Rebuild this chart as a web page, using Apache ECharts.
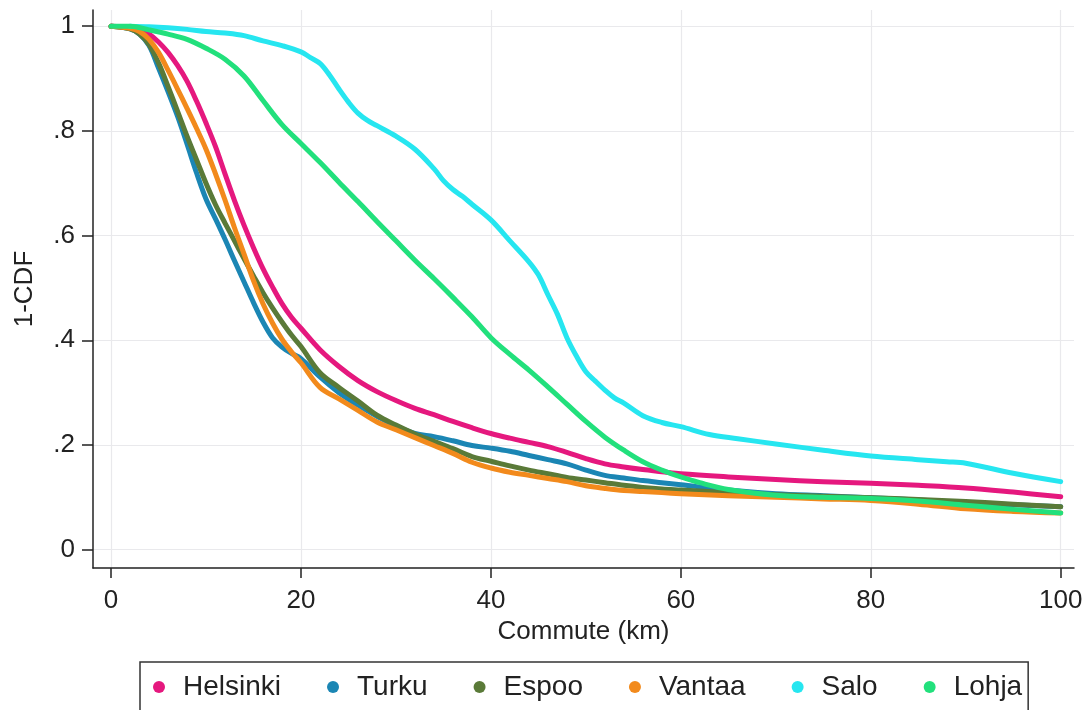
<!DOCTYPE html>
<html>
<head>
<meta charset="utf-8">
<script src="https://cdn.jsdelivr.net/npm/echarts@6/dist/echarts.min.js"></script>
<style>
html,body{margin:0;padding:0;background:#fff;}
#chart{width:1086px;height:710px;}
</style>
</head>
<body>
<div id="chart"></div>
<script>
// ---- data ----
const cityNames = ['Helsinki', 'Turku', 'Espoo', 'Vantaa', 'Salo', 'Lohja'];
const xTicks = [0, 20, 40, 60, 80, 100];
const yTicks = [0, 0.2, 0.4, 0.6, 0.8, 1];
const yTickLabels = ['0', '.2', '.4', '.6', '.8', '1'];

// shared distance grid (km) for the four big-city curves
const cityKm = [0,2,3,4,5,6,7,8,9,10, 11,12,13,14,15,16,17,18,19,20,
  22,24,26,28,30,32,34,36,38,40,42,44,46,48,50,52,54,56,58,60,
  65,70,75,80,85,90,95,100];
const helsinki = [1,0.998,0.993,0.985,0.97,0.95,0.925,0.895,0.857,0.815,
  0.77,0.718,0.667,0.62,0.577,0.537,0.502,0.47,0.444,0.423,
  0.382,0.35,0.323,0.302,0.285,0.27,0.258,0.245,0.233,0.222,0.213,0.205,0.197,0.186,0.174,0.164,0.158,0.153,0.149,0.145,
  0.139,0.134,0.13,0.127,0.123,0.118,0.11,0.101];
const turku = [1,0.995,0.985,0.963,0.92,0.875,0.828,0.775,0.72,0.67,
  0.632,0.593,0.552,0.512,0.472,0.435,0.405,0.387,0.375,0.365,
  0.33,0.3,0.276,0.255,0.236,0.222,0.216,0.208,0.199,0.194,0.188,0.18,0.172,0.164,0.152,0.142,0.137,0.132,0.128,0.124,
  0.114,0.107,0.103,0.099,0.095,0.09,0.086,0.082];
const espoo = [1,0.995,0.985,0.965,0.93,0.885,0.838,0.79,0.745,0.70,
  0.659,0.624,0.59,0.556,0.523,0.491,0.462,0.435,0.41,0.388,
  0.338,0.31,0.284,0.257,0.238,0.221,0.207,0.193,0.178,0.169,0.16,0.152,0.145,0.138,0.133,0.128,0.123,0.119,0.116,0.114,
  0.109,0.105,0.102,0.099,0.096,0.092,0.087,0.082];
const vantaa = [1,0.996,0.99,0.975,0.95,0.916,0.88,0.843,0.805,0.765,
  0.718,0.668,0.615,0.565,0.514,0.47,0.433,0.402,0.378,0.357,
  0.31,0.288,0.266,0.244,0.229,0.214,0.199,0.184,0.167,0.156,0.148,0.142,0.136,0.13,0.122,0.117,0.113,0.111,0.109,0.107,
  0.103,0.1,0.097,0.094,0.087,0.078,0.073,0.07];

const saloKm = [2,4,6,8,10,12,14,16,18,20, 21,22,23,24,25,26,27,28,
  30,32,34,35,36,37,38, 40,42,44,45,46,47,48,49,50,51,52,53,54,
  56,58,60,63,66,70,75,80,85,88,90,95,100];
const salo = [1.0,0.999,0.997,0.994,0.99,0.987,0.982,0.972,0.963,0.951,
  0.94,0.929,0.907,0.88,0.855,0.834,0.82,0.81,
  0.79,0.765,0.728,0.705,0.688,0.675,0.66,
  0.63,0.59,0.55,0.525,0.487,0.45,0.405,0.37,0.34,0.322,0.305,0.29,0.28,
  0.256,0.243,0.235,0.22,0.212,0.202,0.19,0.179,0.172,0.168,0.165,0.146,0.13];

const lohjaKm = [0,2,4,6,8,10,12,14,16,18,20,22,24,26,28,30,32,34,36,38,
  40,42,44,46,48,50,52,54,56,58,60, 62,65,70,75,80,85,90,95,100];
const lohja = [1,1.0,0.993,0.985,0.975,0.958,0.937,0.905,0.858,0.812,
  0.776,0.74,0.702,0.665,0.627,0.59,0.553,0.518,0.482,0.445,
  0.405,0.373,0.343,0.311,0.278,0.245,0.215,0.19,0.168,0.152,0.139,
  0.128,0.115,0.104,0.1,0.098,0.093,0.085,0.077,0.07];

// ---- build ----
const colors = ['#e5187e', '#1b86b4', '#5a7a38', '#f28a1c', '#26e6f0', '#22e07c'];
const xs = [cityKm, cityKm, cityKm, cityKm, saloKm, lohjaKm];
const ys = [helsinki, turku, espoo, vantaa, salo, lohja];
const FONT = "'Liberation Sans', Arial, sans-serif";

const series = cityNames.map((name, i) => ({
  name: name,
  type: 'line',
  data: xs[i].map((x, j) => [x, ys[i][j]]),
  showSymbol: false,
  smooth: 0.35,
  lineStyle: { width: 5, color: colors[i], cap: 'round', join: 'round' },
  itemStyle: { color: colors[i] },
  emphasis: { disabled: true },
  animation: false
}));

const chart = echarts.init(document.getElementById('chart'), null, { renderer: 'canvas' });
chart.setOption({
  backgroundColor: '#ffffff',
  animation: false,
  textStyle: { fontFamily: FONT },
  grid: { left: 93, right: 12, top: 10, bottom: 142, containLabel: false, outerBoundsMode: 'none' },
  xAxis: {
    type: 'value',
    min: -1.9, max: 101.4,
    name: 'Commute (km)',
    nameLocation: 'middle',
    nameGap: 51,
    nameTextStyle: { fontSize: 26, color: '#222', fontFamily: FONT },
    axisLine: { show: true, onZero: false, lineStyle: { color: '#222', width: 1.5 } },
    axisTick: { show: true, length: 10, customValues: xTicks, lineStyle: { color: '#222', width: 1.5 } },
    axisLabel: { customValues: xTicks, fontSize: 26, color: '#222', margin: 20, fontFamily: FONT },
    splitLine: { show: true, lineStyle: { color: '#e9e9ec', width: 1.2 } }
  },
  yAxis: {
    type: 'value',
    min: -0.035, max: 1.031,
    name: '1-CDF',
    nameLocation: 'middle',
    nameGap: 55,
    nameRotate: 90,
    nameTextStyle: { fontSize: 26, color: '#222', fontFamily: FONT },
    axisLine: { show: true, onZero: false, lineStyle: { color: '#222', width: 1.5 } },
    axisTick: { show: true, length: 11, customValues: yTicks, lineStyle: { color: '#222', width: 1.5 } },
    axisLabel: {
      customValues: yTicks, fontSize: 26, color: '#222', margin: 18, fontFamily: FONT,
      formatter: v => { const k = yTicks.findIndex(t => Math.abs(t - v) < 1e-6); return k >= 0 ? yTickLabels[k] : ''; }
    },
    splitLine: { show: true, lineStyle: { color: '#e9e9ec', width: 1.2 } }
  },
  legend: {
    data: cityNames.map((n, i) => ({ name: n, icon: 'circle' })),
    left: 140, top: 662,
    orient: 'horizontal',
    itemWidth: 38, itemHeight: 12, itemGap: 46,
    padding: [11, 6, 11, 13],
    borderColor: '#333', borderWidth: 1.5, borderRadius: 0,
    textStyle: { fontSize: 28, color: '#222', fontFamily: FONT },
    selectedMode: false
  },
  series: series
});
</script>
</body>
</html>
